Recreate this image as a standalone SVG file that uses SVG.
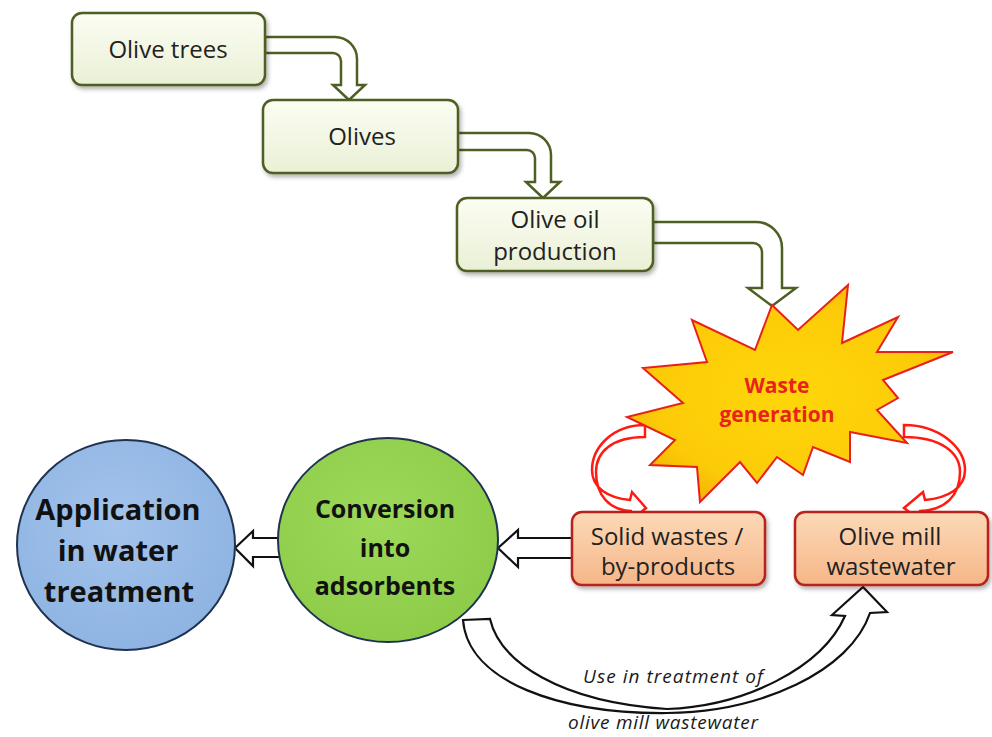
<svg xmlns="http://www.w3.org/2000/svg" width="992" height="737" viewBox="0 0 992 737">
  <defs>
    <linearGradient id="gBox" x1="0" y1="0" x2="0" y2="1">
      <stop offset="0" stop-color="#FBFDF2"/>
      <stop offset="1" stop-color="#EAF0D6"/>
    </linearGradient>
    <linearGradient id="gOrange" x1="0" y1="0" x2="0" y2="1">
      <stop offset="0" stop-color="#FCD9B8"/>
      <stop offset="1" stop-color="#F6B688"/>
    </linearGradient>
    <radialGradient id="gBlue" cx="0.45" cy="0.4" r="0.65">
      <stop offset="0" stop-color="#A3C3EB"/>
      <stop offset="1" stop-color="#8DB3E2"/>
    </radialGradient>
    <radialGradient id="gGreen" cx="0.45" cy="0.4" r="0.65">
      <stop offset="0" stop-color="#9ED95A"/>
      <stop offset="1" stop-color="#8CCB48"/>
    </radialGradient>
    <radialGradient id="gStar" cx="0.5" cy="0.5" r="0.6">
      <stop offset="0" stop-color="#FFD60A"/>
      <stop offset="0.7" stop-color="#FCCB08"/>
      <stop offset="1" stop-color="#EFAE00"/>
    </radialGradient>
    <filter id="shadow" x="-10%" y="-10%" width="130%" height="140%">
      <feDropShadow dx="2" dy="3" stdDeviation="2" flood-color="#000" flood-opacity="0.3"/>
    </filter>
  </defs>
  <style>
    .box { fill: url(#gBox); stroke: #4E5F23; stroke-width: 2.5; filter: url(#shadow); }
    .obox { fill: url(#gOrange); stroke: #B8231D; stroke-width: 2.5; filter: url(#shadow); }
    .garrow { fill: #FFFFFF; stroke: #4E5F23; stroke-width: 2.5; stroke-linejoin: miter; }
    .barrow { fill: #FFFFFF; stroke: #111111; stroke-width: 2.2; stroke-linejoin: miter; }
    .rarrow { fill: #FFFFFF; stroke: #FF1A12; stroke-width: 2.5; stroke-linejoin: miter; }
    .txt { font-family: "Open Sans", "Liberation Sans", sans-serif; font-size: 24px; fill: #222222; text-anchor: middle; }
    .btxt { font-family: "Open Sans", "Liberation Sans", sans-serif; font-weight: bold; fill: #111111; text-anchor: middle; }
    .itxt { font-family: "Open Sans", "Liberation Sans", sans-serif; font-style: italic; font-size: 19px; fill: #1a1a1a; text-anchor: middle; }
  </style>
  <rect width="992" height="737" fill="#FFFFFF"/>

  <g id="connectors">
    <!-- Olive trees -> Olives -->
    <path class="garrow" d="M265,37 H335 A22,22 0 0 1 357,59 V85 H365 L349,100 L333,85 H341 V61 A8,8 0 0 0 333,53 H265 Z"/>
    <!-- Olives -> Olive oil production -->
    <path class="garrow" d="M457,133 H529 A22,22 0 0 1 551,155 V182 H560 L543,198 L526,182 H535 V158 A8,8 0 0 0 527,150 H457 Z"/>
    <!-- Olive oil production -> Waste generation -->
    <path class="garrow" d="M653,222 H756 A26,26 0 0 1 782,248 V288 H796 L772,306 L748,288 H762 V252 A9,9 0 0 0 753,243 H653 Z"/>
    <!-- Waste generation -> Solid wastes -->
    <path class="rarrow" d="M645,425 C612,425 592,448 592,470 C592,488 608,498 630,500 L632,492 L646,508 L634,518 L631,511 C610,510 596,496 596,472 C596,452 612,437 645,437 Z"/>
    <!-- Waste generation -> Olive mill wastewater -->
    <path class="rarrow" d="M904,425 C940,425 965,448 965,470 C965,488 948,498 925,500 L923,492 L904,508 L917,518 L920,511 C945,510 960,496 960,472 C960,452 940,437 904,437 Z"/>
    <!-- Conversion -> Application -->
    <path class="barrow" d="M235,548 L253,531 V538 H284 V557 H253 V566 Z"/>
    <!-- Solid wastes -> Conversion -->
    <path class="barrow" d="M498,548 L518,530 V538 H573 V558 H518 V567 Z"/>
    <!-- Conversion -> Olive mill wastewater (use in treatment) -->
    <path class="barrow" d="M463,620 L490,619 C500,662 560,702 667,709 C745,706 822,668 845,616 L832,615 L863,587 L887,612 L870,613 C850,672 760,712 667,713 C560,714 468,682 463,620 Z"/>
    <text class="itxt" x="673" y="683" textLength="180" lengthAdjust="spacing">Use in treatment of</text>
    <text class="itxt" x="663" y="729" textLength="190" lengthAdjust="spacing">olive mill wastewater</text>
  </g>

  <g id="olive-trees">
    <rect class="box" x="72" y="13" width="193" height="72" rx="10"/>
    <text class="txt" x="168" y="58">Olive trees</text>
  </g>
  <g id="olives">
    <rect class="box" x="263" y="100" width="195" height="73" rx="10"/>
    <text class="txt" x="362" y="145">Olives</text>
  </g>
  <g id="olive-oil-production">
    <rect class="box" x="457" y="198" width="196" height="73" rx="10"/>
    <text class="txt" x="555" y="228">Olive oil</text>
    <text class="txt" x="555" y="260">production</text>
  </g>

  <g id="waste-generation">
    <path d="M772,305 L798,330 L848,285 L842,343 L898,317 L877,352 L953,352 L883,380 L898,398 L877,410 L907,443 L850,432 L850,462 L813,447 L803,475 L777,457 L757,483 L740,462 L700,502 L697,467 L650,465 L675,440 L627,417 L683,403 L643,368 L707,362 L692,320 L755,350 Z" fill="url(#gStar)" stroke="#E8201C" stroke-width="2" stroke-linejoin="miter"/>
    <text class="btxt" x="777" y="393" font-size="21" style="fill:#E8231B">Waste</text>
    <text class="btxt" x="777" y="422" font-size="21" style="fill:#E8231B">generation</text>
  </g>

  <g id="solid-wastes">
    <rect class="obox" x="572" y="512" width="193" height="73" rx="10"/>
    <text class="txt" x="667" y="545">Solid wastes /</text>
    <text class="txt" x="668" y="575">by-products</text>
  </g>
  <g id="olive-mill-wastewater">
    <rect class="obox" x="795" y="512" width="193" height="73" rx="10"/>
    <text class="txt" x="890" y="545">Olive mill</text>
    <text class="txt" x="891" y="575">wastewater</text>
  </g>

  <g id="conversion">
    <ellipse cx="388" cy="540" rx="110" ry="102" fill="url(#gGreen)" stroke="#1F3350" stroke-width="2"/>
    <text class="btxt" x="385" y="518" font-size="25">Conversion</text>
    <text class="btxt" x="385" y="557" font-size="25">into</text>
    <text class="btxt" x="385" y="595" font-size="25">adsorbents</text>
  </g>
  <g id="application">
    <ellipse cx="126" cy="545" rx="109" ry="105" fill="url(#gBlue)" stroke="#1F3350" stroke-width="2"/>
    <text class="btxt" x="118" y="520" font-size="29">Application</text>
    <text class="btxt" x="118" y="561" font-size="29">in water</text>
    <text class="btxt" x="119" y="602" font-size="29">treatment</text>
  </g>
</svg>
